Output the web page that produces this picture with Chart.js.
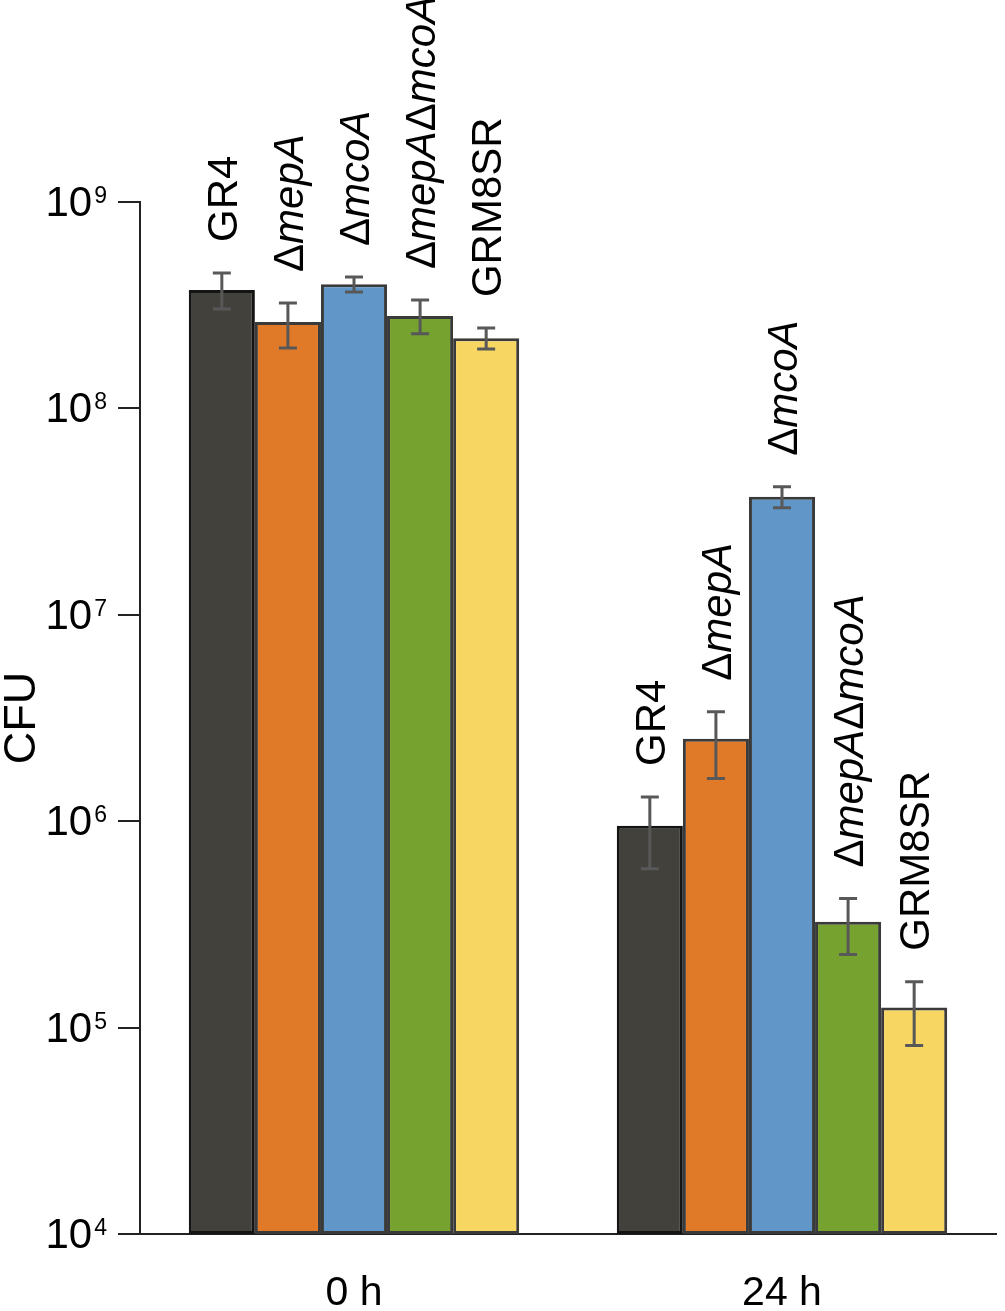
<!DOCTYPE html>
<html>
<head>
<meta charset="utf-8">
<script src="https://cdn.jsdelivr.net/npm/chart.js@4.4.1/dist/chart.umd.min.js"></script>
<style>
html,body{margin:0;padding:0;background:#fff;}
#wrap{width:1005px;height:1311px;}
</style>
</head>
<body>
<div id="wrap"><canvas id="c" width="1005" height="1311"></canvas></div>
<script>
// ---- data ----
const timepoints = ['0 h', '24 h'];
const strains = ['GR4', 'ΔmepA', 'ΔmcoA', 'ΔmepAΔmcoA', 'GRM8SR'];
const yTicks = [1e4, 1e5, 1e6, 1e7, 1e8, 1e9];
const yTickExponents = ['4', '5', '6', '7', '8', '9'];

const cfuGR4        = [3.75e8, 9.5e5];
const cfuMepA       = [2.62e8, 2.51e6];
const cfuMcoA       = [4.0e8, 3.73e7];
const cfuMepAMcoA   = [2.8e8, 3.26e5];
const cfuGRM8SR     = [2.19e8, 1.25e5];

const errLowGR4      = [3.03e8, 5.89e5];
const errHighGR4     = [4.53e8, 1.31e6];
const errLowMepA     = [1.96e8, 1.61e6];
const errHighMepA    = [3.24e8, 3.39e6];
const errLowMcoA     = [3.66e8, 3.30e7];
const errHighMcoA    = [4.33e8, 4.17e7];
const errLowMepAMcoA = [2.30e8, 2.26e5];
const errHighMepAMcoA= [3.35e8, 4.22e5];
const errLowGRM8SR   = [1.94e8, 8.18e4];
const errHighGRM8SR  = [2.45e8, 1.67e5];

const colors = ['#42413c', '#e07a29', '#6096c8', '#76a22f', '#f7d662'];
const borderColors = ['#141414', '#3a3a3a', '#3a3a3a', '#3a3a3a', '#3a3a3a'];

const seriesValues = [cfuGR4, cfuMepA, cfuMcoA, cfuMepAMcoA, cfuGRM8SR];
const seriesLow = [errLowGR4, errLowMepA, errLowMcoA, errLowMepAMcoA, errLowGRM8SR];
const seriesHigh = [errHighGR4, errHighMepA, errHighMcoA, errHighMepAMcoA, errHighGRM8SR];

const FONT = '"Liberation Sans", Arial, sans-serif';

const datasets = strains.map((s, i) => ({
  label: s,
  data: seriesValues[i],
  errLow: seriesLow[i],
  errHigh: seriesHigh[i],
  backgroundColor: colors[i],
  borderColor: borderColors[i],
  borderWidth: 3,
  borderSkipped: false,
  categoryPercentage: 0.772,
  barPercentage: 1.0
}));

// split label into segments: Δ upright, gene names italic
function segments(name) {
  if (name.indexOf('Δ') < 0) return [{t: name, it: false}];
  const out = [];
  name.split('Δ').forEach((part, k) => {
    if (k > 0) out.push({t: 'Δ', it: false});
    if (part) out.push({t: part, it: true});
  });
  return out;
}

const overlay = {
  id: 'overlay',
  afterDatasetsDraw(chart) {
    const ctx = chart.ctx;
    const y = chart.scales.y;
    chart.data.datasets.forEach((ds, di) => {
      const meta = chart.getDatasetMeta(di);
      meta.data.forEach((bar, j) => {
        const x = bar.x;
        const yl = y.getPixelForValue(ds.errLow[j]);
        const yh = y.getPixelForValue(ds.errHigh[j]);
        ctx.save();
        ctx.strokeStyle = '#585858';
        ctx.lineWidth = 3;
        ctx.beginPath();
        ctx.moveTo(x, yl); ctx.lineTo(x, yh);
        ctx.moveTo(x - 9, yl); ctx.lineTo(x + 9, yl);
        ctx.moveTo(x - 9, yh); ctx.lineTo(x + 9, yh);
        ctx.stroke();
        ctx.restore();
        // rotated label
        const segs = segments(ds.label);
        ctx.save();
        ctx.translate(x + 15, yh - 31);
        ctx.rotate(-Math.PI / 2);
        ctx.fillStyle = '#000';
        ctx.textBaseline = 'alphabetic';
        ctx.textAlign = 'left';
        let off = 0;
        segs.forEach(sg => {
          ctx.font = (sg.it ? 'italic ' : '') + '42px ' + FONT;
          ctx.fillText(sg.t, off, 0);
          off += ctx.measureText(sg.t).width;
        });
        ctx.restore();
      });
    });
  },
  afterDraw(chart) {
    const ctx = chart.ctx;
    const y = chart.scales.y;
    ctx.save();
    ctx.fillStyle = '#000';
    ctx.textBaseline = 'alphabetic';
    yTicks.forEach((v, i) => {
      const py = y.getPixelForValue(v);
      ctx.font = '23px ' + FONT;
      const ew = ctx.measureText(yTickExponents[i]).width;
      const right = 107;
      ctx.textAlign = 'left';
      ctx.fillText(yTickExponents[i], right - ew, py + 1);
      ctx.font = '42px ' + FONT;
      ctx.textAlign = 'right';
      ctx.fillText('10', right - ew - 2, py + 14);
    });
    ctx.restore();
  }
};

new Chart(document.getElementById('c'), {
  type: 'bar',
  data: { labels: timepoints, datasets },
  options: {
    responsive: false,
    animation: false,
    devicePixelRatio: 1,
    layout: { padding: { top: 202, right: 9, left: 0, bottom: 0 } },
    plugins: { legend: { display: false }, tooltip: { enabled: false } },
    scales: {
      x: {
        grid: { display: false, drawTicks: false },
        border: { display: true, color: '#222', width: 2 },
        ticks: { color: '#000', font: { family: FONT, size: 41 }, padding: 35 },
        afterFit(s) { s.height = 77; }
      },
      y: {
        type: 'logarithmic',
        min: 1e4,
        max: 1e9,
        afterBuildTicks(s) { s.ticks = yTicks.map(v => ({ value: v })); },
        grid: { drawOnChartArea: false, drawTicks: true, tickLength: 22, color: '#222', lineWidth: 2 },
        border: { display: true, color: '#222', width: 2 },
        ticks: { display: false },
        title: { display: true, text: 'CFU', color: '#000', font: { family: FONT, size: 45, lineHeight: 1 }, padding: { top: 0, bottom: 0 } },
        afterFit(s) { s.width = 140; }
      }
    }
  },
  plugins: [overlay]
});
</script>
</body>
</html>
